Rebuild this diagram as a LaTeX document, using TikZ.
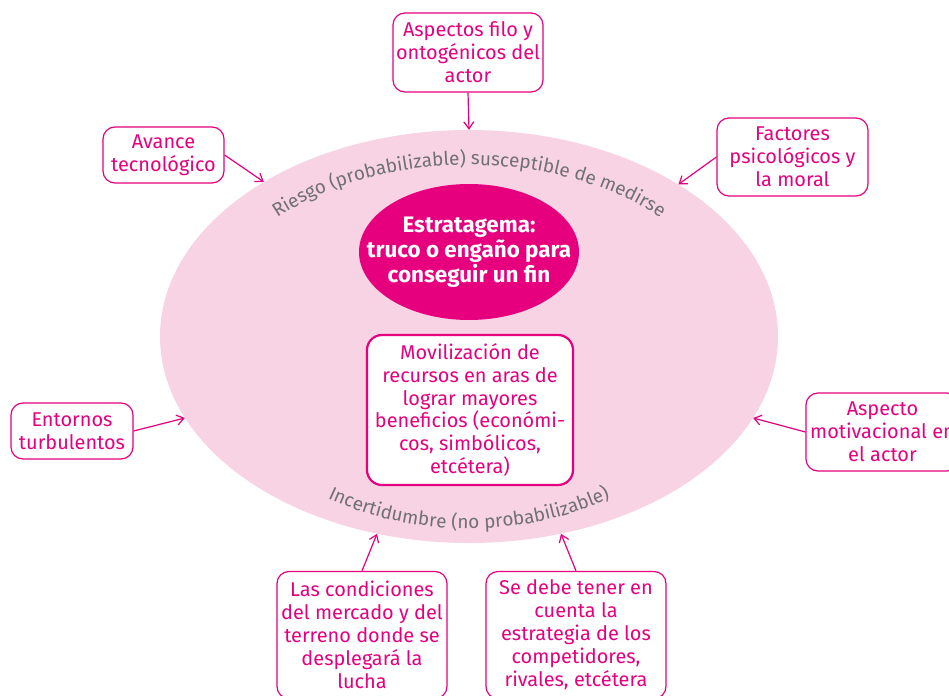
\documentclass[tikz,border=0pt]{standalone}
\usepackage{fontspec}
\setmainfont{Fira Sans}
\usetikzlibrary{positioning, arrows.meta, shapes.geometric, decorations.text, calc}
\definecolor{rosa}{RGB}{230,0,126}
\definecolor{rosaclaro}{RGB}{248,211,228}
\definecolor{gris}{RGB}{112,112,118}
\newcommand{\boxfont}{\fontsize{20}{23}\selectfont}
\newcommand{\arcfont}{\fontsize{19}{21}\selectfont\color{gris}}
\tikzset{
    outer/.style={rectangle, draw=rosa, line width=1.2bp, rounded corners=12bp, fill=white,
      text=rosa, align=center, font=\boxfont, inner sep=2bp},
    inner/.style={outer, line width=2.2bp, rounded corners=15bp},
    flow/.style={draw=rosa, line width=1.2bp, -{Straight Barb[length=7bp,width=10bp]}},
    arctext/.style={decorate, decoration={text along path, text align=center, text={#1}}},
}

\begin{document}
\begin{tikzpicture}[x=1bp, y=-1bp]
    \useasboundingbox (0,0) rectangle (949,696);

    \node[ellipse, fill=rosaclaro, minimum width=618bp, minimum height=413bp, inner sep=0] (big) at (469,336.5) {};
    \node[ellipse, fill=rosa, minimum width=220bp, minimum height=136bp, inner sep=-30bp,
      text=white, align=center, font=\fontsize{22.5}{25}\selectfont\bfseries] (core) at (469,252)
      {Estratagema:\\truco o engaño para\\conseguir un fin};

    \path[arctext={|\arcfont|Riesgo (probabilizable) susceptible de medirse}]
      (big.center) ++(210:265 and 171.5) arc[start angle=210, end angle=330, x radius=265, y radius=171.5];
    \path[arctext={|\arcfont|Incertidumbre (no probabilizable)}]
      (big.center) ++(140:262 and 192) arc[start angle=140, end angle=40, x radius=262, y radius=192];

    \node[inner, minimum width=206bp, minimum height=150bp] (movil) at (470,410)
      {Movilización de\\recursos en aras de\\lograr mayores\\beneficios (económi-\\cos, simbólicos,\\etcétera)};

    % factores alrededor
    \node[outer, minimum width=150bp, minimum height=79bp] (aspectos) at (468,52.5)
      {Aspectos filo y\\ontogénicos del\\actor};
    \node[outer, minimum width=121bp, minimum height=56bp] (avance) at (163.5,155)
      {Avance\\tecnológico};
    \node[outer, minimum width=151bp, minimum height=78bp] (factores) at (792.5,157)
      {Factores\\psicológicos y\\la moral};
    \node[outer, minimum width=122bp, minimum height=56bp] (entornos) at (72,431)
      {Entornos\\turbulentos};
    \node[outer, minimum width=153bp, minimum height=78bp] (motiv) at (882.5,432)
      {Aspecto\\motivacional en\\el actor};
    \node[outer, minimum width=170bp, minimum height=127bp] (mercado) at (362,635)
      {Las condiciones\\del mercado y del\\terreno donde se\\desplegará la\\lucha};
    \node[outer, minimum width=180bp, minimum height=127bp] (rivales) at (576,635)
      {Se debe tener en\\cuenta la\\estrategia de los\\competidores,\\rivales, etcétera};

    \draw (aspectos.south) edge[flow] (big.90);
    \draw (avance.east) edge[flow] (big.143);
    \draw (factores.west) edge[flow] (big.36);
    \draw (entornos.east) edge[flow] (big.196);
    \draw (motiv.west) edge[flow] (big.344);
    \draw (mercado.north) edge[flow] (big.245);
    \draw (rivales.north) edge[flow] (big.295);
\end{tikzpicture}
\end{document}
